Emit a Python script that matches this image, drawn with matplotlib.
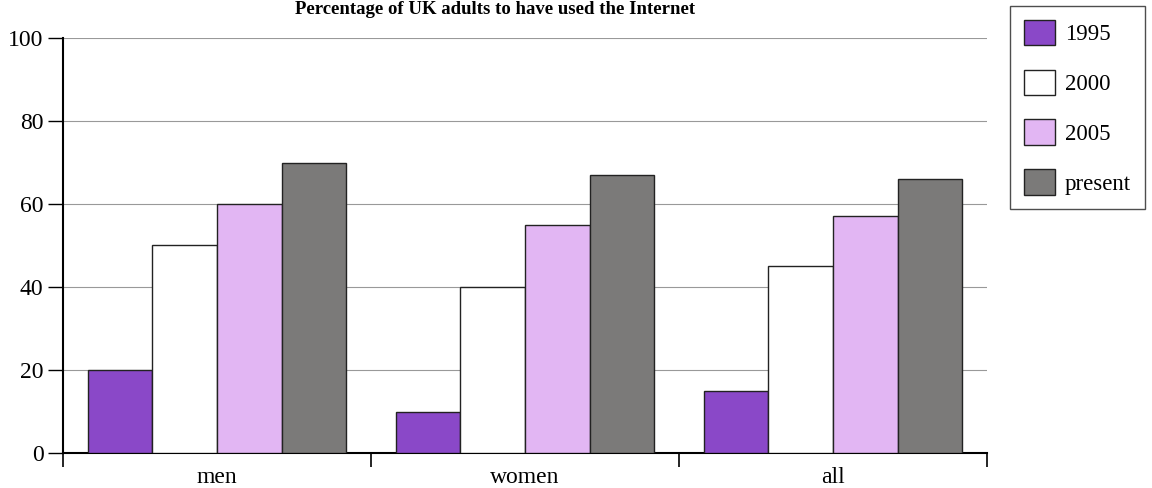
import numpy as np
import matplotlib.pyplot as plt
from matplotlib.ticker import FixedLocator

categories = ["men", "women", "all"]
years = ["1995", "2000", "2005", "present"]
v1995 = [20, 10, 15]
v2000 = [50, 40, 45]
v2005 = [60, 55, 57]
vpresent = [70, 67, 66]
yticks = [0, 20, 40, 60, 80, 100]

colors = ["#8a48c8", "#ffffff", "#e2b6f3", "#7b7a79"]

plt.rcParams['font.family'] = ['Liberation Serif', 'DejaVu Serif']

fig = plt.figure(figsize=(11.52, 4.88), dpi=100)
ax = fig.add_axes([63/1152, 1-453/488, (987-63)/1152, (453-38)/488])

series = [v1995, v2000, v2005, vpresent]
x = np.arange(len(categories))
w = 0.21
for i, vals in enumerate(series):
    ax.bar(x + 0.5 + (i - 1.5)*w, vals, width=w, color=colors[i],
           edgecolor="#222222", lw=1.0, label=years[i], zorder=3)

ax.set_xlim(0, 3)
ax.set_ylim(0, 100)
ax.set_yticks(yticks)
ax.set_yticklabels([str(t) for t in yticks], fontsize=17)
ax.yaxis.grid(True, color="#999999", lw=0.8, zorder=0)
ax.set_axisbelow(True)

# category boundaries as major ticks, labels on minor ticks
ax.xaxis.set_major_locator(FixedLocator([0, 1, 2, 3]))
ax.xaxis.set_minor_locator(FixedLocator(x + 0.5))
ax.set_xticklabels([], minor=False)
ax.set_xticklabels(categories, minor=True, fontsize=17)
ax.tick_params(axis='x', which='major', length=10, width=1.2, direction='out')
ax.tick_params(axis='x', which='minor', length=0, pad=10)
ax.tick_params(axis='y', length=11, width=1, direction='out', pad=3)

for s in ["top", "right"]:
    ax.spines[s].set_visible(False)
ax.spines["left"].set_linewidth(1.5)
ax.spines["bottom"].set_linewidth(1.5)

fig.text(495/1152, 1-9/488, "Percentage of UK adults to have used the Internet",
         ha='center', va='center', fontsize=13.5, fontweight='bold')

leg = ax.legend(loc='upper left', bbox_to_anchor=(1010/1152, 1-6/488),
                bbox_transform=fig.transFigure, fontsize=16.5, frameon=True,
                fancybox=False, handlelength=1.35, handleheight=1.35,
                labelspacing=1.05, borderpad=0.6, handletextpad=0.45,
                borderaxespad=0)
leg.get_frame().set_edgecolor("#222222")
leg.get_frame().set_linewidth(1.0)

fig.savefig("out.png", dpi=100)
